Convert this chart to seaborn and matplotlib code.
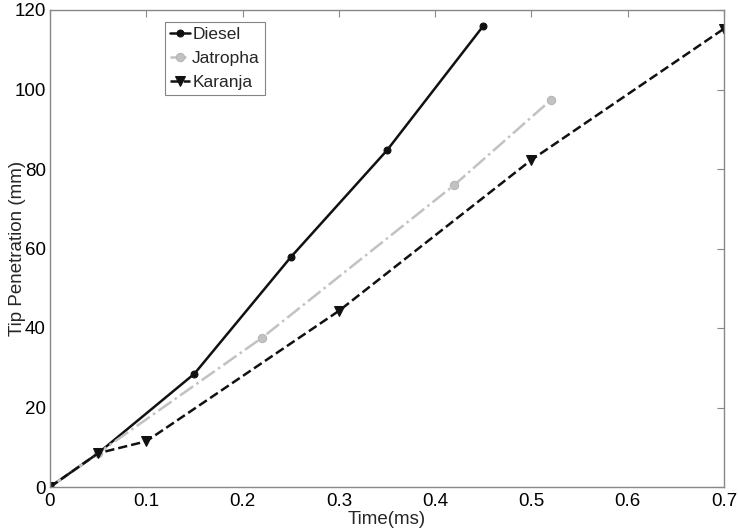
import pandas as pd
import matplotlib
matplotlib.use("Agg")
import matplotlib.pyplot as plt
import seaborn as sns

# data
diesel_t = [0, 0.05, 0.15, 0.25, 0.35, 0.45]
diesel_p = [0, 8.5, 28.5, 57.8, 84.7, 116]

jatropha_t = [0, 0.05, 0.22, 0.42, 0.52]
jatropha_p = [0, 8.5, 37.5, 76, 97.3]

karanja_t = [0, 0.05, 0.1, 0.3, 0.5, 0.7]
karanja_p = [0, 8.5, 11.5, 44.3, 82.3, 115.3]

sns.set_style("white")
plt.rcParams['font.family'] = ['Liberation Sans', 'DejaVu Sans']

fig = plt.figure(figsize=(7.38, 5.29), dpi=100)
ax = fig.add_axes([50 / 738, 1 - 487 / 529, 674 / 738, 477 / 529])

sns.lineplot(x=diesel_t, y=diesel_p, ax=ax, color='#111111', linestyle='-',
             marker='o', markersize=5, markeredgecolor='#111111', linewidth=1.8, label='Diesel')
sns.lineplot(x=jatropha_t, y=jatropha_p, ax=ax, color='#c2c2c2', linestyle='-.',
             marker='o', markersize=6, markeredgecolor='#b5b5b5', linewidth=1.8, label='Jatropha')
sns.lineplot(x=karanja_t, y=karanja_p, ax=ax, color='#111111', linestyle='--',
             marker='v', markersize=7, markeredgecolor='#111111', linewidth=1.8, label='Karanja')

ax.set_xlim(0, 0.7)
ax.set_ylim(0, 120)
ax.set_xticks([0, 0.1, 0.2, 0.3, 0.4, 0.5, 0.6, 0.7])
ax.set_xticklabels(['0', '0.1', '0.2', '0.3', '0.4', '0.5', '0.6', '0.7'])
ax.set_yticks([0, 20, 40, 60, 80, 100, 120])

for s in ax.spines.values():
    s.set_color('#888888')
    s.set_linewidth(1.0)
ax.tick_params(direction='in', top=True, right=True, length=5, width=0.8,
               color='#888888', labelsize=13.5, labelcolor='black')
ax.tick_params(axis='x', pad=4)
ax.tick_params(axis='y', pad=3)

ax.set_xlabel('Time(ms)', fontsize=13.5)
ax.set_ylabel('Tip Penetration (mm)', fontsize=13.5)
ax.xaxis.set_label_coords(0.5, -0.05)
ax.yaxis.set_label_coords(-0.036, 0.5)

leg = ax.legend(loc='upper left', bbox_to_anchor=(0.171, 0.975), fontsize=12.5,
                frameon=True, fancybox=False, handlelength=1.1, handletextpad=0.15,
                borderpad=0.3, labelspacing=0.5, borderaxespad=0)
leg.get_frame().set_edgecolor('#666666')
leg.get_frame().set_linewidth(0.8)

fig.savefig('out.png', dpi=100)
